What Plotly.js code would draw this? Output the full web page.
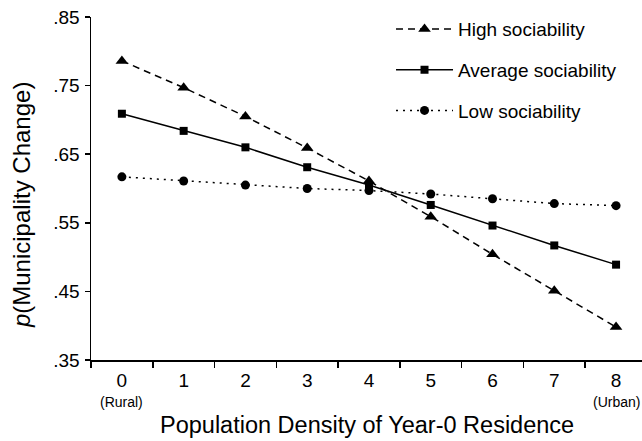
<!DOCTYPE html>
<html>
<head>
<meta charset="utf-8">
<script src="https://cdn.plot.ly/plotly-3.0.1.min.js"></script>
<style>html,body{margin:0;padding:0;background:#fff;}#chart{width:642px;height:441px;}</style>
</head>
<body>
<div id="chart"></div>
<script>
// ---- data ----
const density = [0, 1, 2, 3, 4, 5, 6, 7, 8];
const tickLabels = ["0", "1", "2", "3", "4", "5", "6", "7", "8"];
const endLabels = ["(Rural)", "(Urban)"];
const highSoc = [0.786, 0.747, 0.705, 0.659, 0.611, 0.559, 0.504, 0.451, 0.398];
const avgSoc  = [0.709, 0.684, 0.660, 0.631, 0.605, 0.576, 0.546, 0.517, 0.489];
const lowSoc  = [0.617, 0.611, 0.605, 0.600, 0.597, 0.592, 0.585, 0.578, 0.575];
const seriesNames = ["High sociability", "Average sociability", "Low sociability"];
const yTickVals = [0.35, 0.45, 0.55, 0.65, 0.75, 0.85];
const yTickText = [".35", ".45", ".55", ".65", ".75", ".85"];
const xTitle = "Population Density of Year-0 Residence";
const yTitle = "<i>p</i>(Municipality Change)";

const FONT = "Liberation Sans, Arial, Helvetica, sans-serif";

const traces = [
  {x: density, y: highSoc, name: seriesNames[0], mode: "lines+markers", legendgroup: "a",
   line: {color: "#000", width: 1.5, dash: "7px,5px"}, marker: {symbol: "triangle-up", size: 11, color: "#000"}},
  {x: density, y: avgSoc, name: seriesNames[1], mode: "lines+markers", legendgroup: "b",
   line: {color: "#000", width: 1.5}, marker: {symbol: "square", size: 8, color: "#000"}},
  {x: density, y: lowSoc, name: seriesNames[2], mode: "lines+markers", legendgroup: "c",
   line: {color: "#000", width: 1.5, dash: "2px,5px"}, marker: {symbol: "circle", size: 9, color: "#000"}}
];

const layout = {
  width: 642, height: 441,
  margin: {l: 91, r: 0, t: 17, b: 81},
  paper_bgcolor: "#fff", plot_bgcolor: "#fff",
  font: {family: FONT, color: "#000", size: 19},
  showlegend: true,
  legend: {x: 0.5445, y: 1.02, xanchor: "left", yanchor: "top", bgcolor: "rgba(0,0,0,0)",
           font: {size: 19, family: FONT}, itemwidth: 57, traceorder: "grouped", tracegroupgap: 13},
  xaxis: {range: [-0.5, 8.42], tickmode: "array", tickvals: density, ticktext: tickLabels, ticks: "",
          ticklabelstandoff: 3, tickfont: {size: 19},
          showline: true, linecolor: "#000", linewidth: 1.5, showgrid: false, zeroline: false,
          minor: {tickmode: "array", tickvals: density.map(v => v - 0.5), ticks: "outside", ticklen: 6, tickwidth: 1.5, tickcolor: "#000", showgrid: false}},
  yaxis: {range: [0.35, 0.85], tickmode: "array", tickvals: yTickVals, ticktext: yTickText,
          ticks: "outside", ticklen: 5, tickwidth: 1.5, tickcolor: "#000", ticklabelstandoff: 1,
          showline: true, linecolor: "#000", linewidth: 1.5, showgrid: false, zeroline: false, tickfont: {size: 19}},
  annotations: [
    {xref: "x", yref: "paper", x: density[0], y: -0.1224, text: endLabels[0], showarrow: false, font: {size: 14}, xanchor: "center", yanchor: "middle"},
    {xref: "x", yref: "paper", x: density[density.length - 1], y: -0.1224, text: endLabels[1], showarrow: false, font: {size: 14}, xanchor: "center", yanchor: "middle"},
    {xref: "paper", yref: "paper", x: 0.5, y: -0.1895, text: xTitle, showarrow: false, font: {size: 23.5}, xanchor: "center", yanchor: "middle"},
    {xref: "paper", yref: "paper", x: -0.125, y: 0.452, text: yTitle, showarrow: false, font: {size: 24}, textangle: -90, xanchor: "center", yanchor: "middle"}
  ]
};

Plotly.newPlot("chart", traces, layout, {displayModeBar: false, staticPlot: true});
</script>
</body>
</html>
